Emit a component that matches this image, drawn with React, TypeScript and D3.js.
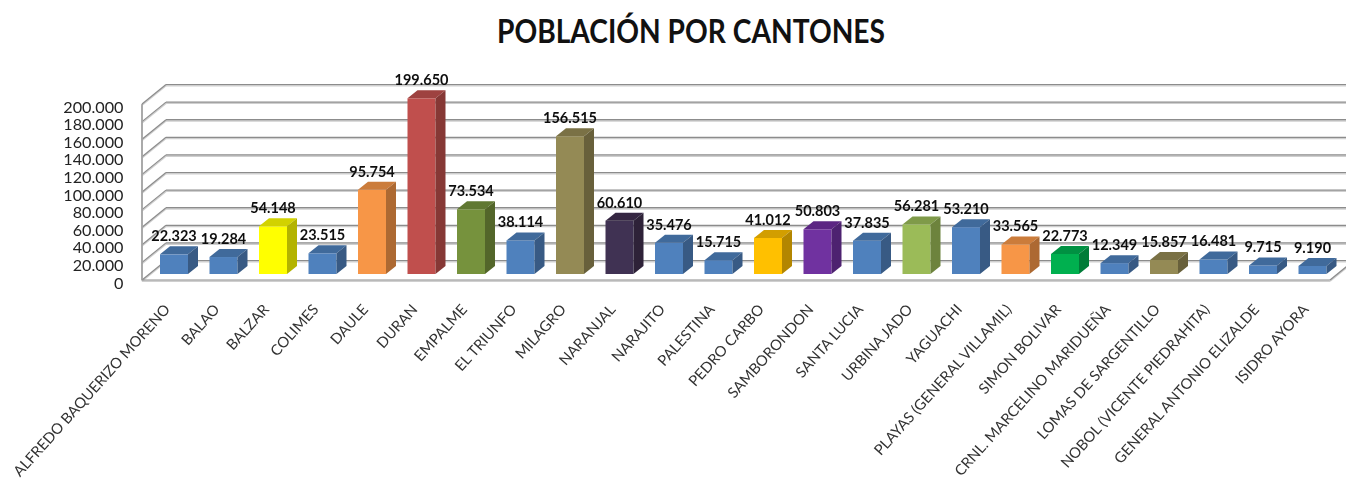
import React from "react";
import * as d3 from "d3";

const categories = ["ALFREDO BAQUERIZO MORENO","BALAO","BALZAR","COLIMES","DAULE","DURAN","EMPALME","EL TRIUNFO","MILAGRO","NARANJAL","NARAJITO","PALESTINA","PEDRO CARBO","SAMBORONDON","SANTA LUCIA","URBINA JADO","YAGUACHI","PLAYAS (GENERAL VILLAMIL)","SIMON BOLIVAR","CRNL. MARCELINO MARIDUEÑA","LOMAS DE SARGENTILLO","NOBOL (VICENTE PIEDRAHITA)","GENERAL ANTONIO ELIZALDE","ISIDRO AYORA"];
const values = [22323,19284,54148,23515,95754,199650,73534,38114,156515,60610,35476,15715,41012,50803,37835,56281,53210,33565,22773,12349,15857,16481,9715,9190];
const colors = ["#4f81bd","#4f81bd","#ffff00","#4f81bd","#f79646","#c0504d","#76923c","#4f81bd","#948a54","#403152","#4f81bd","#4f81bd","#ffc000","#7030a0","#4f81bd","#9bbb59","#4f81bd","#f79646","#00b050","#4f81bd","#948a54","#4f81bd","#4f81bd","#4f81bd"];
const yTicks = [0,20000,40000,60000,80000,100000,120000,140000,160000,180000,200000];
const title = "POBLACIÓN POR CANTONES";

const W = 1346, H = 482;
const fmt = (v: number) => d3.format(",")(v).replace(/,/g, ".");
const y = d3.scaleLinear().domain([0, 200000]).range([280, 104]);
const x = d3.scaleBand<string>().domain(categories).range([149.25, 1337.25]).paddingInner(1 - 28 / 49.5).paddingOuter((1 - 28 / 49.5) / 2);
const wallDX = 24, wallDY = -19.5, barDX = 10, barDY = -8, baseDrop = 6;
const leftX = 142, rightX = 1330;
const FONT = "Lato, 'Open Sans', sans-serif";

function Grid({ x1, y1, x2, y2 }: any) {
  return <g>
    <line x1={x1} y1={y1 + 1.2} x2={x2} y2={y2 + 1.2} stroke="#cfcfcf" strokeWidth={1.6} />
    <line x1={x1} y1={y1} x2={x2} y2={y2} stroke="#8c8c8c" strokeWidth={1.2} />
  </g>;
}

export default function App() {
  const bw = x.bandwidth();
  return (
    <svg width={W} height={H} viewBox={`0 0 ${W} ${H}`} style={{ position: "absolute", left: 0, top: 0, background: "#fff" }}>
      <defs>
        <filter id="soft" x="-5%" y="-5%" width="110%" height="110%"><feGaussianBlur stdDeviation="0.35" /></filter>
        <filter id="softText" x="-5%" y="-5%" width="110%" height="110%"><feGaussianBlur stdDeviation="0.25" /></filter>
      </defs>
      <text x={691} y={43} textAnchor="middle" fontFamily={FONT} fontWeight={700} fontSize={33} fill="#111" textLength={388} lengthAdjust="spacingAndGlyphs">{title}</text>
      <g filter="url(#soft)">
        {yTicks.map((t) => (
          <g key={t}>
            <Grid x1={leftX + wallDX} y1={y(t) + wallDY} x2={W + 4} y2={y(t) + wallDY} />
            <Grid x1={leftX} y1={y(t)} x2={leftX + wallDX} y2={y(t) + wallDY} />
          </g>
        ))}
        <Grid x1={leftX} y1={y(0)} x2={leftX} y2={y(200000)} />
        <Grid x1={leftX} y1={y(0)} x2={rightX} y2={y(0)} />
        <Grid x1={rightX} y1={y(0)} x2={rightX + wallDX} y2={y(0) + wallDY} />
        {categories.map((c, i) => {
          const x0 = x(c)!, x1 = x0 + bw, yb = y(0) - baseDrop, yt = y(values[i]) - baseDrop;
          const col = d3.color(colors[i])!;
          const top = col.darker(0.55).formatHex(), side = col.darker(1).formatHex();
          return (
            <g key={c}>
              <rect x={x0} y={yt} width={bw} height={yb - yt} fill={colors[i]} />
              <polygon points={[[x0, yt], [x0 + barDX, yt + barDY], [x1 + barDX, yt + barDY], [x1, yt]].join(" ")} fill={top} />
              <polygon points={[[x1, yt], [x1 + barDX, yt + barDY], [x1 + barDX, yb + barDY], [x1, yb]].join(" ")} fill={side} />
            </g>
          );
        })}
      </g>
      <g filter="url(#softText)">
        {yTicks.map((t) => (
          <text key={t} x={123.5} y={y(t) + 8.6} textAnchor="end" fontFamily={FONT} fontSize={16.2} fill="#222">{fmt(t)}</text>
        ))}
        {categories.map((c, i) => {
          const cx = x(c)! + bw / 2;
          return <text key={c} x={cx} y={y(values[i]) - 6 + barDY - 5} textAnchor="middle" fontFamily={FONT} fontWeight={700} fontSize={14.5} fill="#111">{fmt(values[i])}</text>;
        })}
        {categories.map((c) => {
          const px = x(c)! + bw / 2 - 12, py = 302;
          return <text key={c} transform={`translate(${px},${py}) rotate(-48)`} textAnchor="end" dominantBaseline="hanging" fontFamily={FONT} fontSize={14.8} fill="#333">{c}</text>;
        })}
      </g>
    </svg>
  );
}
